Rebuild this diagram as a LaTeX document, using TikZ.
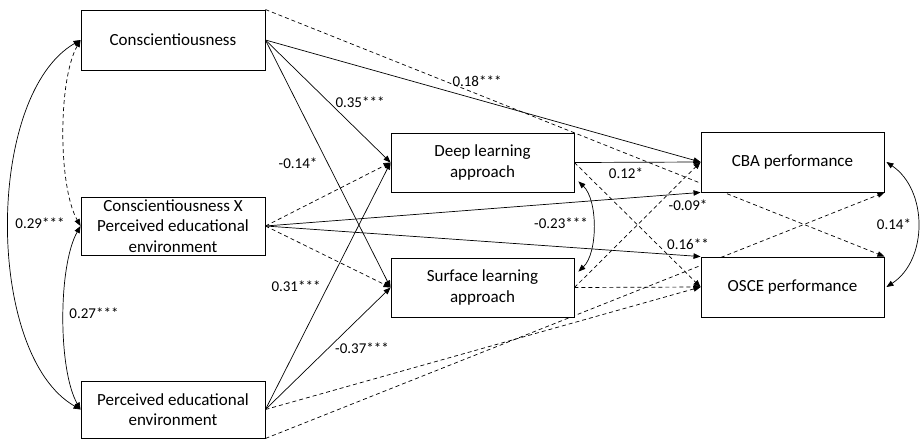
\documentclass[tikz,border=0pt]{standalone}
\usepackage{fontspec}
\setmainfont{Carlito}
\usetikzlibrary{arrows.meta,backgrounds,calc}
\begin{document}
\begin{tikzpicture}[x=1pt,y=-1pt,
  box/.style={draw, line width=0.9pt, fill=white, minimum width=183pt, minimum height=59pt, inner sep=0pt, align=center, font=\fontsize{17}{20.5}\selectfont},
  lbl/.style={font=\fontsize{15}{18}\selectfont, inner sep=0pt},
  conn/.style={line width=0.7pt, -{Triangle[length=7pt,width=5.5pt]}},
  dconn/.style={conn, dash pattern=on 4pt off 3pt},
  dbl/.style={line width=0.7pt, {Triangle[length=7pt,width=5.5pt]}-{Triangle[length=7pt,width=5.5pt]}},
]
\useasboundingbox (0,0) rectangle (920,440);

% boxes
\node[box, minimum width=184pt, minimum height=60pt] (C) at (173,40) {Conscientiousness};
\node[box, minimum width=184pt, minimum height=58pt] (I) at (173,226) {Conscientiousness X\\Perceived educational\\environment};
\node[box, minimum width=184pt, minimum height=57pt] (P) at (173,409.5) {Perceived educational\\environment};
\node[box] (D) at (482.5,162.5) {Deep learning\\approach};
\node[box] (S) at (482.5,287.5) {Surface learning\\approach};
\node[box, minimum height=60pt] (CBA) at (792.5,162) {CBA performance};
\node[box, minimum height=60pt] (OSCE) at (792.5,287) {OSCE performance};

\begin{scope}[on background layer]
% solid paths
\draw[conn] (C.east) -- (D.west);
\draw[conn] (C.east) -- (S.west);
\draw[conn] (C.east) -- (CBA.west);
\draw[conn] (I.east) -- (CBA.south west);
\draw[conn] (I.east) -- (OSCE.north west);
\draw[conn] (P.east) -- (D.west);
\draw[conn] (P.east) -- (S.west);
\draw[conn] (D.east) -- (CBA.west);
% dashed paths
\draw[dconn] (C.north east) -- (OSCE.north east);
\draw[dconn] (I.east) -- (D.west);
\draw[dconn] (I.east) -- (S.west);
\draw[dconn] (D.east) -- (OSCE.west);
\draw[dconn] (S.east) -- (CBA.west);
\draw[dconn] (S.east) -- (OSCE.west);
\draw[dconn] (P.east) -- (OSCE.west);
\draw[dconn] (P.south east) -- (CBA.south east);
\end{scope}

% covariances
\draw[dbl] (C.west) .. controls (-15,95) and (-15,355) .. (P.west);
\draw[dbl, dash pattern=on 4pt off 3pt] (C.west) .. controls (58,80) and (58,186) .. (I.west);
\draw[dbl] (I.west) .. controls (58,266) and (58,370) .. (P.west);
\draw[dbl] ($(D.south east)+(4,-11)$) .. controls (598,200) and (598,253) .. ($(S.north east)+(4,14)$);
\draw[dbl] ($(CBA.east)+(2,0)$) .. controls (928,190) and (928,260) .. ($(OSCE.east)+(2,0)$);

% labels
\node[lbl] (l029) at (40,223) {0.29***};
\node[lbl] (l027) at (94,313) {0.27***};
\node[lbl] (l035) at (360,102) {0.35***};
\node[lbl] (l014) at (298,163) {-0.14*};
\node[lbl] (l018) at (477,81) {0.18***};
\node[lbl] (l031) at (296,286) {0.31***};
\node[lbl] (l037) at (362,348) {-0.37***};
\node[lbl] (l012) at (626,173) {0.12*};
\node[lbl] (l009) at (688,205) {-0.09*};
\node[lbl] (l016) at (688,244) {0.16**};
\node[lbl] (l023) at (561,223) {-0.23***};
\node[lbl] (l0014) at (894,224) {0.14*};
\end{tikzpicture}
\end{document}
